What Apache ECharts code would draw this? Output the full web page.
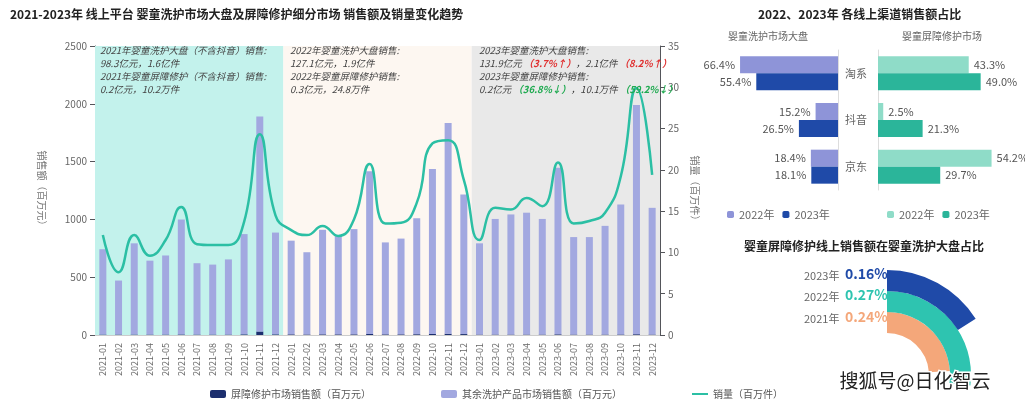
<!DOCTYPE html><html><head><meta charset="utf-8"><script src="https://cdn.jsdelivr.net/npm/echarts@6/dist/echarts.min.js"></script>
<style>body{margin:0;background:#fff}#c{width:1025px;height:412px}</style></head><body><div id="c"></div><script>
const months=[];for(const y of [2021,2022,2023])for(let m=1;m<=12;m++)months.push(y+'-'+String(m).padStart(2,'0'));
const barrierSales=[4,4,4,4,4,5,4,4,4,6,30,6,6,5,6,6,6,9,6,6,7,9,11,8,4,4,4,4,4,6,4,4,4,5,7,4];
const otherSales=[738,467,789,639,684,994,617,605,650,867,1861,880,810,711,904,852,910,1407,795,828,1003,1428,1822,1208,789,1000,1039,1054,1000,1440,843,843,940,1123,1982,1096];
const volume=[12.1,7.6,12.1,9.6,11.5,15.5,11.0,10.9,10.9,13.7,24.3,14.5,12.7,12.1,13.2,12.0,14.0,20.7,13.5,13.6,16.0,23.2,23.6,18.8,11.5,15.4,15.2,16.6,15.6,20.9,13.5,13.8,14.8,19.2,29.9,19.4];
const channels=['淘系','抖音','京东'];
const big2022=[66.4,15.2,18.4], big2023=[55.4,26.5,18.1];
const bar2022=[43.3,2.5,54.2], bar2023=[49.0,21.3,29.7];
const shareYears=['2021年','2022年','2023年'], shareVals=[0.24,0.27,0.16];
const shareColors=['#f4a77a','#2ec4b0','#1f4aa8'];
const ch=echarts.init(document.getElementById('c'));
const F='Noto Sans CJK SC';
const lbl=(pos)=>({show:true,position:pos,formatter:p=>p.value.toFixed(1)+'%',color:'#555',fontSize:11});
const fs=9.5;
const anno=(x,lines)=>({type:'text',left:x,top:46,z:100,style:{rich:{a:{fontSize:fs,fontStyle:'italic',fill:'#444',lineHeight:13,fontFamily:F},r:{fontSize:fs,fontStyle:'italic',fill:'#e03030',fontWeight:'bold',lineHeight:13,fontFamily:F},g:{fontSize:fs,fontStyle:'italic',fill:'#1faa50',fontWeight:'bold',lineHeight:13,fontFamily:F}},text:lines.join('\n')}});
const graphics=[
 {type:'text',left:10,top:8,style:{text:'2021-2023年 线上平台 婴童洗护市场大盘及屏障修护细分市场 销售额及销量变化趋势',fontSize:12,fontWeight:'bold',fill:'#222',fontFamily:F}},
 {type:'text',left:758,top:8,style:{text:'2022、2023年 各线上渠道销售额占比',fontSize:12,fontWeight:'bold',fill:'#222',fontFamily:F}},
 {type:'text',left:728,top:31,style:{text:'婴童洗护市场大盘',fontSize:10,fill:'#666',fontFamily:F}},
 {type:'text',left:902,top:31,style:{text:'婴童屏障修护市场',fontSize:10,fill:'#666',fontFamily:F}},
 {type:'text',left:744,top:240,style:{text:'婴童屏障修护线上销售额在婴童洗护大盘占比',fontSize:12,fontWeight:'bold',fill:'#222',fontFamily:F}},
 {type:'text',left:838,top:370,z:100,style:{text:'搜狐号@日化智云',fontSize:19,fill:'#222',fontFamily:F,stroke:'#fff',lineWidth:3}},
 anno(100,['{a|2021年婴童洗护大盘（不含抖音）销售:}','{a|98.3亿元，1.6亿件}','{a|2021年婴童屏障修护（不含抖音）销售:}','{a|0.2亿元，10.2万件}']),
 anno(290,['{a|2022年婴童洗护大盘销售:}','{a|127.1亿元，1.9亿件}','{a|2022年婴童屏障修护销售:}','{a|0.3亿元，24.8万件}']),
 anno(479,['{a|2023年婴童洗护大盘销售:}','{a|131.9亿元 }{r|（3.7%↑）}{a|，2.1亿件 }{r|（8.2%↑）}','{a|2023年婴童屏障修护销售:}','{a|0.2亿元 }{g|（36.8%↓）}{a|，10.1万件 }{g|（59.2%↓）}'])
];
const ys=[320,298,277];
shareYears.forEach((y,i)=>{graphics.push({type:'text',left:804,top:ys[i]-7,style:{text:y,fontSize:11,fill:'#666',fontFamily:F}});
 graphics.push({type:'text',left:845,top:ys[i]-10,style:{text:(shareVals[i]).toFixed(2)+'%',fontSize:14,fontWeight:'bold',fill:shareColors[i],fontFamily:F}});});
ch.setOption({
 animation:false,textStyle:{fontFamily:F},
 graphic:graphics,
 grid:[{left:95,right:365,top:46,bottom:77},{left:720,width:118,top:50,height:140},{left:878,width:132,top:50,height:140}],
 polar:{center:[887,375],radius:[42,105]},
 angleAxis:{max:1,startAngle:90,clockwise:true,show:false},
 radiusAxis:{type:'category',data:shareYears,show:false},
 legend:[{bottom:8,left:205,itemWidth:16,itemHeight:8,itemGap:70,textStyle:{fontSize:10,color:'#555'},data:[{name:'屏障修护市场销售额（百万元）'},{name:'其余洗护产品市场销售额（百万元）'},{name:'销量（百万件）',icon:'path://M0,4L16,4L16,6L0,6Z'}]},
  {top:204,left:722,itemWidth:7,itemHeight:7,textStyle:{fontSize:11,color:'#666'},data:[{name:'大盘2022',itemStyle:{color:'#8e94d8'}},{name:'大盘2023',itemStyle:{color:'#1f4aa8'}}],formatter:n=>n.slice(2)+'年'},
  {top:204,left:882,itemWidth:7,itemHeight:7,textStyle:{fontSize:11,color:'#666'},data:['屏障2022','屏障2023'],formatter:n=>n.slice(2)+'年'}],
 xAxis:[{type:'category',data:months,gridIndex:0,axisLine:{lineStyle:{color:'#ccc'}},axisTick:{show:false},axisLabel:{rotate:90,fontSize:9,color:'#666'}},
  {type:'value',min:0,max:36,gridIndex:0,show:false},
  {type:'value',gridIndex:1,inverse:true,max:80,show:false},
  {type:'value',gridIndex:2,max:63,show:false}],
 yAxis:[{type:'value',gridIndex:0,min:0,max:2500,interval:500,name:'销售额（百万元）',nameLocation:'middle',nameGap:48,nameRotate:-90,nameTextStyle:{color:'#777',fontSize:10},axisLabel:{color:'#666',fontSize:10,formatter:v=>String(v)},splitLine:{show:false}},
  {type:'value',gridIndex:0,min:0,max:35,interval:5,position:'right',name:'销量（百万件）',nameLocation:'middle',nameGap:28,nameRotate:-90,nameTextStyle:{color:'#777',fontSize:10},axisLabel:{color:'#666',fontSize:10},splitLine:{show:false}},
  {type:'category',gridIndex:1,data:channels,inverse:true,position:'right',axisTick:{show:false},axisLine:{lineStyle:{color:'#ddd'}},axisLabel:{show:false}},
  {type:'category',gridIndex:2,data:channels,inverse:true,axisTick:{show:false},axisLine:{lineStyle:{color:'#ddd'}},axisLabel:{color:'#666',fontSize:11,margin:22,align:'center'}}],
 series:[
  {type:'line',xAxisIndex:1,yAxisIndex:0,data:[],silent:true,z:0,markArea:{silent:true,data:[[{xAxis:0,itemStyle:{color:'#c3f2ec'}},{xAxis:12}],[{xAxis:12,itemStyle:{color:'#fdf7f1'}},{xAxis:24}],[{xAxis:24,itemStyle:{color:'#e9e9e9'}},{xAxis:36}]]}},
  {name:'屏障修护市场销售额（百万元）',type:'bar',stack:'s',barWidth:7,data:barrierSales,itemStyle:{color:'#1c2f6e'}},
  {name:'其余洗护产品市场销售额（百万元）',type:'bar',stack:'s',barWidth:7,data:otherSales,itemStyle:{color:'#a2a8e0'}},
  {name:'销量（百万件）',type:'line',yAxisIndex:1,smooth:true,symbol:'none',data:volume,lineStyle:{color:'#2bbfa4',width:2.5},itemStyle:{color:'#2bbfa4'},z:5},
  {name:'大盘2022',type:'bar',xAxisIndex:2,yAxisIndex:2,data:big2022,barWidth:17,barGap:'0%',itemStyle:{color:'#8e94d8'},label:lbl('left')},
  {name:'大盘2023',type:'bar',xAxisIndex:2,yAxisIndex:2,data:big2023,barWidth:17,itemStyle:{color:'#1f4aa8'},label:lbl('left')},
  {name:'屏障2022',type:'bar',xAxisIndex:3,yAxisIndex:3,data:bar2022,barWidth:17,barGap:'0%',itemStyle:{color:'#8fdcc8'},label:lbl('right')},
  {name:'屏障2023',type:'bar',xAxisIndex:3,yAxisIndex:3,data:bar2023,barWidth:17,itemStyle:{color:'#2bb59a'},label:lbl('right')},
  {type:'bar',coordinateSystem:'polar',barCategoryGap:'0%',data:shareVals.map((v,i)=>({value:v,itemStyle:{color:shareColors[i]}}))}
 ]});
</script></body></html>
